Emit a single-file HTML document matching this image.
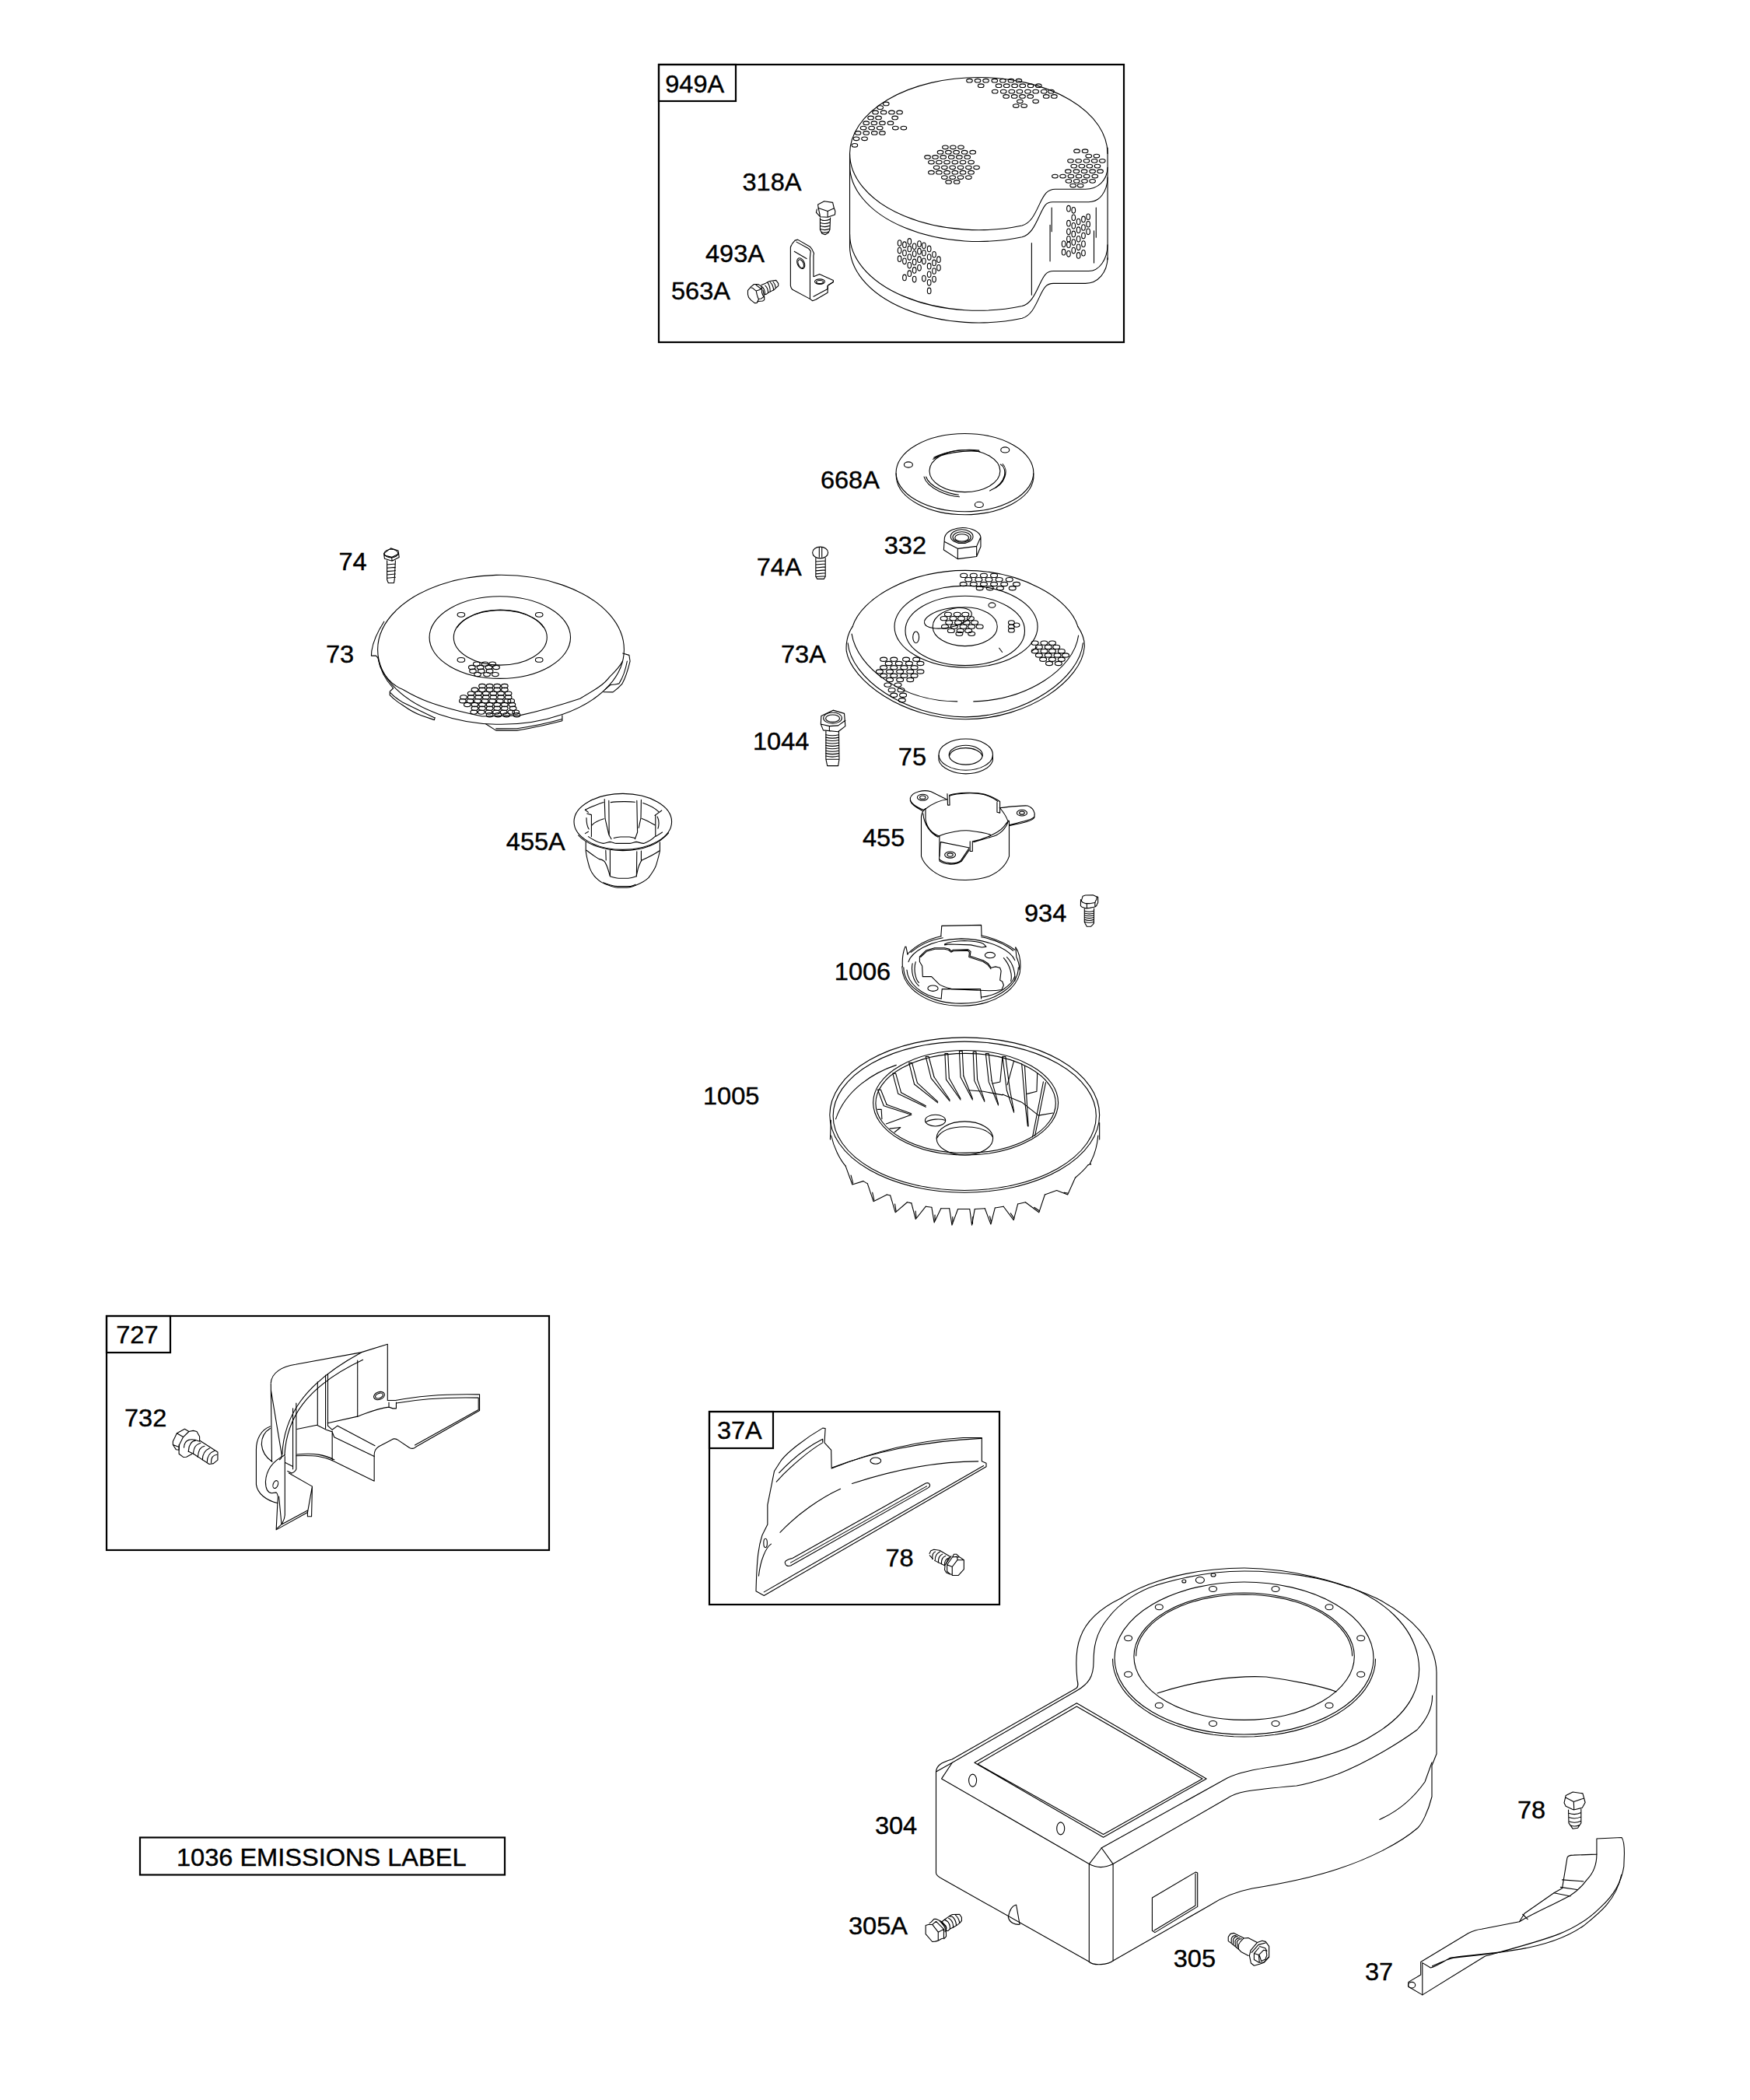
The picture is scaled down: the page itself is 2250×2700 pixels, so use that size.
<!DOCTYPE html>
<html><head><meta charset="utf-8"><style>
html,body{margin:0;padding:0;background:#fff;}
svg{display:block;}
text{font-family:"Liberation Sans",sans-serif;font-size:31px;fill:#000;stroke:#000;stroke-width:0.4px;}
.p{fill:none;stroke:#000;stroke-width:1.1;stroke-linejoin:round;stroke-linecap:round;}
.p *{vector-effect:non-scaling-stroke;}
</style></head><body>
<svg width="2250" height="2700" viewBox="0 0 2250 2700">
<g fill="none" stroke="#000" stroke-width="2.2">
<rect x="847" y="83" width="598" height="357"/>
<rect x="847" y="83" width="99" height="47"/>
<rect x="137" y="1692" width="569" height="301"/>
<rect x="137" y="1692" width="82" height="47"/>
<rect x="912" y="1815" width="373" height="248"/>
<rect x="912" y="1815" width="82" height="47"/>
<rect x="180" y="2362.5" width="469" height="48"/>
</g>
<g class="p">
<g transform="translate(1090,80) scale(0.211430)"><path d="M1580,556 A784,464 0 0 0 12,556 A784,464 0 0 0 1060,993 C1110,980 1135,930 1165,865 C1195,800 1215,772 1262,772 L1445,772 C1520,772 1578,720 1580,640"/><path d="M12,626 A784,464 0 0 0 1060,1063 C1110,1050 1135,1000 1165,935 C1195,870 1205,850 1245,850 L1465,850 C1530,850 1578,790 1580,700"/><path d="M12,1046 A784,464 0 0 0 1060,1483 C1110,1470 1135,1420 1165,1355 C1195,1290 1210,1270 1250,1270 L1465,1270 C1530,1270 1578,1200 1580,1110"/><path d="M12,1120 A784,464 0 0 0 1060,1557 C1110,1544 1135,1494 1165,1429 C1195,1364 1210,1345 1250,1345 L1445,1345 C1520,1345 1578,1280 1580,1190"/><path d="M12,556 L12,1125 M1580,520 L1580,1200"/><path d="M1118,1100 L1118,1415 M1240,885 L1240,1030 M1230,990 L1230,1210 M1510,885 L1510,1065 M1497,1025 L1497,1220"/><ellipse cx="593" cy="517" rx="18" ry="11"/><ellipse cx="640" cy="517" rx="18" ry="11"/><ellipse cx="688" cy="517" rx="18" ry="11"/><ellipse cx="563" cy="547" rx="18" ry="11"/><ellipse cx="612" cy="547" rx="18" ry="11"/><ellipse cx="660" cy="547" rx="18" ry="11"/><ellipse cx="710" cy="547" rx="18" ry="11"/><ellipse cx="760" cy="547" rx="18" ry="11"/><ellipse cx="485" cy="577" rx="18" ry="11"/><ellipse cx="532" cy="577" rx="18" ry="11"/><ellipse cx="580" cy="577" rx="18" ry="11"/><ellipse cx="630" cy="577" rx="18" ry="11"/><ellipse cx="678" cy="577" rx="18" ry="11"/><ellipse cx="727" cy="577" rx="18" ry="11"/><ellipse cx="508" cy="608" rx="18" ry="11"/><ellipse cx="555" cy="608" rx="18" ry="11"/><ellipse cx="603" cy="608" rx="18" ry="11"/><ellipse cx="652" cy="608" rx="18" ry="11"/><ellipse cx="700" cy="608" rx="18" ry="11"/><ellipse cx="750" cy="608" rx="18" ry="11"/><ellipse cx="540" cy="640" rx="18" ry="11"/><ellipse cx="588" cy="640" rx="18" ry="11"/><ellipse cx="637" cy="640" rx="18" ry="11"/><ellipse cx="686" cy="640" rx="18" ry="11"/><ellipse cx="735" cy="640" rx="18" ry="11"/><ellipse cx="783" cy="640" rx="18" ry="11"/><ellipse cx="508" cy="670" rx="18" ry="11"/><ellipse cx="555" cy="670" rx="18" ry="11"/><ellipse cx="603" cy="670" rx="18" ry="11"/><ellipse cx="652" cy="670" rx="18" ry="11"/><ellipse cx="700" cy="670" rx="18" ry="11"/><ellipse cx="750" cy="670" rx="18" ry="11"/><ellipse cx="588" cy="700" rx="18" ry="11"/><ellipse cx="637" cy="700" rx="18" ry="11"/><ellipse cx="686" cy="700" rx="18" ry="11"/><ellipse cx="735" cy="700" rx="18" ry="11"/><ellipse cx="613" cy="728" rx="18" ry="11"/><ellipse cx="663" cy="728" rx="18" ry="11"/><ellipse cx="1393" cy="540" rx="18" ry="11"/><ellipse cx="1443" cy="540" rx="18" ry="11"/><ellipse cx="1465" cy="570" rx="18" ry="11"/><ellipse cx="1513" cy="570" rx="18" ry="11"/><ellipse cx="1355" cy="600" rx="18" ry="11"/><ellipse cx="1403" cy="600" rx="18" ry="11"/><ellipse cx="1452" cy="600" rx="18" ry="11"/><ellipse cx="1500" cy="600" rx="18" ry="11"/><ellipse cx="1548" cy="600" rx="18" ry="11"/><ellipse cx="1375" cy="632" rx="18" ry="11"/><ellipse cx="1423" cy="632" rx="18" ry="11"/><ellipse cx="1470" cy="632" rx="18" ry="11"/><ellipse cx="1518" cy="632" rx="18" ry="11"/><ellipse cx="1340" cy="663" rx="18" ry="11"/><ellipse cx="1390" cy="663" rx="18" ry="11"/><ellipse cx="1438" cy="663" rx="18" ry="11"/><ellipse cx="1488" cy="663" rx="18" ry="11"/><ellipse cx="1535" cy="663" rx="18" ry="11"/><ellipse cx="1260" cy="693" rx="18" ry="11"/><ellipse cx="1308" cy="693" rx="18" ry="11"/><ellipse cx="1357" cy="693" rx="18" ry="11"/><ellipse cx="1405" cy="693" rx="18" ry="11"/><ellipse cx="1453" cy="693" rx="18" ry="11"/><ellipse cx="1503" cy="693" rx="18" ry="11"/><ellipse cx="1343" cy="723" rx="18" ry="11"/><ellipse cx="1392" cy="723" rx="18" ry="11"/><ellipse cx="1440" cy="723" rx="18" ry="11"/><ellipse cx="1488" cy="723" rx="18" ry="11"/><ellipse cx="1370" cy="750" rx="18" ry="11"/><ellipse cx="1415" cy="750" rx="18" ry="11"/><ellipse cx="233" cy="253" rx="18" ry="11"/><ellipse cx="197" cy="275" rx="18" ry="11"/><ellipse cx="168" cy="305" rx="18" ry="11"/><ellipse cx="218" cy="305" rx="18" ry="11"/><ellipse cx="267" cy="305" rx="18" ry="11"/><ellipse cx="315" cy="305" rx="18" ry="11"/><ellipse cx="140" cy="338" rx="18" ry="11"/><ellipse cx="187" cy="338" rx="18" ry="11"/><ellipse cx="287" cy="338" rx="18" ry="11"/><ellipse cx="112" cy="370" rx="18" ry="11"/><ellipse cx="160" cy="370" rx="18" ry="11"/><ellipse cx="210" cy="370" rx="18" ry="11"/><ellipse cx="260" cy="370" rx="18" ry="11"/><ellipse cx="95" cy="400" rx="18" ry="11"/><ellipse cx="145" cy="400" rx="18" ry="11"/><ellipse cx="195" cy="400" rx="18" ry="11"/><ellipse cx="290" cy="400" rx="18" ry="11"/><ellipse cx="340" cy="400" rx="18" ry="11"/><ellipse cx="62" cy="430" rx="18" ry="11"/><ellipse cx="112" cy="430" rx="18" ry="11"/><ellipse cx="162" cy="430" rx="18" ry="11"/><ellipse cx="210" cy="430" rx="18" ry="11"/><ellipse cx="52" cy="465" rx="18" ry="11"/><ellipse cx="102" cy="465" rx="18" ry="11"/><ellipse cx="42" cy="505" rx="18" ry="11"/><ellipse cx="740" cy="112" rx="18" ry="11"/><ellipse cx="790" cy="112" rx="18" ry="11"/><ellipse cx="840" cy="112" rx="18" ry="11"/><ellipse cx="893" cy="112" rx="18" ry="11"/><ellipse cx="943" cy="112" rx="18" ry="11"/><ellipse cx="993" cy="112" rx="18" ry="11"/><ellipse cx="1040" cy="112" rx="18" ry="11"/><ellipse cx="810" cy="143" rx="18" ry="11"/><ellipse cx="918" cy="143" rx="18" ry="11"/><ellipse cx="966" cy="143" rx="18" ry="11"/><ellipse cx="1015" cy="143" rx="18" ry="11"/><ellipse cx="1063" cy="143" rx="18" ry="11"/><ellipse cx="1112" cy="143" rx="18" ry="11"/><ellipse cx="1160" cy="143" rx="18" ry="11"/><ellipse cx="895" cy="178" rx="18" ry="11"/><ellipse cx="947" cy="178" rx="18" ry="11"/><ellipse cx="997" cy="178" rx="18" ry="11"/><ellipse cx="1045" cy="178" rx="18" ry="11"/><ellipse cx="1095" cy="178" rx="18" ry="11"/><ellipse cx="1143" cy="178" rx="18" ry="11"/><ellipse cx="1193" cy="178" rx="18" ry="11"/><ellipse cx="1237" cy="178" rx="18" ry="11"/><ellipse cx="963" cy="208" rx="18" ry="11"/><ellipse cx="1013" cy="208" rx="18" ry="11"/><ellipse cx="1062" cy="208" rx="18" ry="11"/><ellipse cx="1110" cy="208" rx="18" ry="11"/><ellipse cx="1207" cy="208" rx="18" ry="11"/><ellipse cx="1255" cy="208" rx="18" ry="11"/><ellipse cx="1047" cy="238" rx="18" ry="11"/><ellipse cx="1143" cy="238" rx="18" ry="11"/><ellipse cx="1023" cy="265" rx="18" ry="11"/><ellipse cx="1072" cy="265" rx="18" ry="11"/><ellipse cx="315" cy="1100" rx="11" ry="18"/><ellipse cx="315" cy="1145" rx="11" ry="18"/><ellipse cx="315" cy="1195" rx="11" ry="18"/><ellipse cx="345" cy="1110" rx="11" ry="18"/><ellipse cx="345" cy="1160" rx="11" ry="18"/><ellipse cx="345" cy="1210" rx="11" ry="18"/><ellipse cx="345" cy="1310" rx="11" ry="18"/><ellipse cx="375" cy="1090" rx="11" ry="18"/><ellipse cx="375" cy="1135" rx="11" ry="18"/><ellipse cx="375" cy="1185" rx="11" ry="18"/><ellipse cx="375" cy="1235" rx="11" ry="18"/><ellipse cx="375" cy="1285" rx="11" ry="18"/><ellipse cx="405" cy="1120" rx="11" ry="18"/><ellipse cx="405" cy="1165" rx="11" ry="18"/><ellipse cx="405" cy="1215" rx="11" ry="18"/><ellipse cx="405" cy="1265" rx="11" ry="18"/><ellipse cx="405" cy="1320" rx="11" ry="18"/><ellipse cx="435" cy="1105" rx="11" ry="18"/><ellipse cx="435" cy="1150" rx="11" ry="18"/><ellipse cx="435" cy="1200" rx="11" ry="18"/><ellipse cx="435" cy="1250" rx="11" ry="18"/><ellipse cx="463" cy="1115" rx="11" ry="18"/><ellipse cx="463" cy="1160" rx="11" ry="18"/><ellipse cx="463" cy="1210" rx="11" ry="18"/><ellipse cx="463" cy="1315" rx="11" ry="18"/><ellipse cx="495" cy="1135" rx="11" ry="18"/><ellipse cx="495" cy="1185" rx="11" ry="18"/><ellipse cx="495" cy="1240" rx="11" ry="18"/><ellipse cx="495" cy="1290" rx="11" ry="18"/><ellipse cx="495" cy="1340" rx="11" ry="18"/><ellipse cx="495" cy="1390" rx="11" ry="18"/><ellipse cx="525" cy="1170" rx="11" ry="18"/><ellipse cx="525" cy="1220" rx="11" ry="18"/><ellipse cx="525" cy="1270" rx="11" ry="18"/><ellipse cx="525" cy="1320" rx="11" ry="18"/><ellipse cx="553" cy="1200" rx="11" ry="18"/><ellipse cx="553" cy="1250" rx="11" ry="18"/><ellipse cx="1343" cy="890" rx="11" ry="18"/><ellipse cx="1343" cy="980" rx="11" ry="18"/><ellipse cx="1343" cy="1030" rx="11" ry="18"/><ellipse cx="1343" cy="1075" rx="11" ry="18"/><ellipse cx="1343" cy="1110" rx="11" ry="18"/><ellipse cx="1343" cy="1165" rx="11" ry="18"/><ellipse cx="1373" cy="900" rx="11" ry="18"/><ellipse cx="1373" cy="945" rx="11" ry="18"/><ellipse cx="1373" cy="995" rx="11" ry="18"/><ellipse cx="1373" cy="1045" rx="11" ry="18"/><ellipse cx="1373" cy="1095" rx="11" ry="18"/><ellipse cx="1373" cy="1145" rx="11" ry="18"/><ellipse cx="1313" cy="1105" rx="11" ry="18"/><ellipse cx="1313" cy="1155" rx="11" ry="18"/><ellipse cx="1403" cy="970" rx="11" ry="18"/><ellipse cx="1403" cy="1020" rx="11" ry="18"/><ellipse cx="1403" cy="1075" rx="11" ry="18"/><ellipse cx="1403" cy="1125" rx="11" ry="18"/><ellipse cx="1403" cy="1175" rx="11" ry="18"/><ellipse cx="1433" cy="955" rx="11" ry="18"/><ellipse cx="1433" cy="1005" rx="11" ry="18"/><ellipse cx="1433" cy="1055" rx="11" ry="18"/><ellipse cx="1433" cy="1105" rx="11" ry="18"/><ellipse cx="1433" cy="1160" rx="11" ry="18"/><ellipse cx="1462" cy="940" rx="11" ry="18"/><ellipse cx="1462" cy="985" rx="11" ry="18"/><ellipse cx="1462" cy="1030" rx="11" ry="18"/></g>
<g transform="translate(950,250) scale(0.080952)"><path d="M1255,160 L1355,108 L1490,128 L1512,220 L1410,265 L1262,215 Z"/><path d="M1240,235 L1228,285 L1290,355 L1410,362 L1525,320 L1530,265 L1512,220 M1262,215 L1285,320 L1290,355 M1410,265 L1410,350"/><path d="M1290,370 L1290,560 L1320,620 L1370,640 L1420,610 L1445,560 L1452,370 M1300,400 Q1370,430 1445,395 M1295,450 Q1370,480 1445,445 M1295,500 Q1370,530 1445,495 M1295,550 Q1370,580 1445,545 M1310,595 Q1370,620 1430,590"/><path d="M820,840 L820,1450 C825,1480 840,1500 850,1510 L1130,1660 L1170,1690 L1220,1670 L1410,1560 L1410,1450 L1500,1390 L1500,1365 L1280,1265 L1185,1305 L1185,970 L1192,935 C1170,880 1150,850 1130,830 L935,718 L890,730 C860,760 835,790 820,840 Z"/><path d="M1130,1650 L1130,1000 L1140,900 C1120,870 1110,860 1100,855 L915,755 M880,905 L1075,1020 M1185,1620 L1410,1500 M1410,1450 L1410,1500 M1500,1390 L1420,1440"/><ellipse cx="985" cy="1095" rx="55" ry="90" transform="rotate(-25 985 1095)"/><ellipse cx="985" cy="1100" rx="40" ry="70" transform="rotate(-25 985 1100)"/><ellipse cx="1285" cy="1385" rx="80" ry="40"/><ellipse cx="1285" cy="1390" rx="55" ry="25"/></g>
<g transform="translate(958,355) scale(0.026860)"><path d="M130,680 L290,500 L430,390 L620,390 L760,470 L810,600 L800,780 L850,920 L920,1020 L920,1140 L840,1190 L620,1210 L560,1280 L460,1290 L280,1150 L170,1020 L130,880 Z"/><path d="M290,560 L360,570 L530,710 L700,650 L790,580 M530,710 L570,900 L620,1050 L650,1110 L580,1250 M650,1090 L770,1080 L860,1010 L880,1000 M520,420 L780,630"/><path d="M780,430 L980,340 L1170,240 L1480,200 L1590,350 L1590,470 L1480,560 L1380,660 L1210,740 L1100,800 L1010,870 L930,880"/><path d="M800,500 C900,570 950,650 950,870 M960,450 C1050,540 1100,620 1100,770 M1070,300 C1150,400 1200,500 1200,740 M1200,290 C1300,380 1350,480 1360,660 M1340,270 C1420,360 1460,430 1460,560 M860,680 C870,750 880,820 920,1000"/></g>
<g transform="translate(1040,540) scale(0.211430)"><ellipse cx="948" cy="320" rx="418" ry="237"/><path d="M530,325 L532,355 A418,237 0 0 0 1366,355 L1366,325"/><ellipse cx="948" cy="310" rx="215" ry="128"/><path d="M755,238 C800,205 950,180 1040,192 M760,228 C820,195 940,172 1035,185 M1165,270 C1205,290 1210,380 1100,430 M1178,268 C1215,300 1200,390 1110,425 M700,345 C720,420 850,462 915,467 M712,345 C735,410 850,450 910,455"/><ellipse cx="605" cy="272" rx="26" ry="17"/><ellipse cx="1193" cy="182" rx="26" ry="17"/><ellipse cx="1035" cy="515" rx="26" ry="17"/><path d="M825,715 C835,670 900,655 935,655 C990,655 1040,680 1045,712 L1045,770 L1020,830 L905,845 L820,790 L825,715 M825,740 L905,782 L1020,768 L1045,712 M905,782 L905,845 M1020,768 L1020,830"/><ellipse cx="930" cy="708" rx="68" ry="42"/><ellipse cx="930" cy="712" rx="55" ry="32"/><ellipse cx="930" cy="716" rx="42" ry="22"/></g>
<g transform="translate(960,690) scale(0.262860)"><ellipse cx="360" cy="78" rx="38" ry="28"/><path d="M355,52 L355,100 M368,52 L368,100"/><path d="M338,105 L338,195 L345,207 L378,207 L385,195 L385,105 M338,122 L385,118 M338,137 L385,133 M338,152 L385,148 M338,167 L385,163 M338,182 L385,178 M338,196 L385,193"/><path d="M518,440 C560,300 800,165 1070,165 C1340,165 1580,300 1620,440"/><path d="M518,440 C490,480 485,530 488,560 C510,700 760,893 1070,893 C1380,893 1640,700 1652,540 C1655,500 1640,470 1620,440"/><path d="M495,520 C510,690 770,880 1070,882 C1370,880 1630,690 1645,520"/><path d="M514,476 C540,640 760,806 1030,806 M1110,806 C1370,800 1600,650 1623,483"/><ellipse cx="1073" cy="440" rx="350" ry="200"/><ellipse cx="1068" cy="460" rx="292" ry="170"/><ellipse cx="1068" cy="440" rx="158" ry="95"/><ellipse cx="985" cy="398" rx="118" ry="46" transform="rotate(-12 985 398)"/><ellipse cx="1200" cy="335" rx="17" ry="12"/><ellipse cx="828" cy="492" rx="15" ry="28"/><path d="M1235,545 L1250,565"/><ellipse cx="1062" cy="190" rx="17" ry="10"/><ellipse cx="1110" cy="190" rx="17" ry="10"/><ellipse cx="1160" cy="190" rx="17" ry="10"/><ellipse cx="1210" cy="190" rx="17" ry="10"/><ellipse cx="1085" cy="210" rx="17" ry="10"/><ellipse cx="1135" cy="210" rx="17" ry="10"/><ellipse cx="1185" cy="210" rx="17" ry="10"/><ellipse cx="1235" cy="210" rx="17" ry="10"/><ellipse cx="1285" cy="210" rx="17" ry="10"/><ellipse cx="1060" cy="232" rx="17" ry="10"/><ellipse cx="1110" cy="232" rx="17" ry="10"/><ellipse cx="1160" cy="232" rx="17" ry="10"/><ellipse cx="1210" cy="232" rx="17" ry="10"/><ellipse cx="1260" cy="232" rx="17" ry="10"/><ellipse cx="1320" cy="232" rx="17" ry="10"/><ellipse cx="1140" cy="252" rx="17" ry="10"/><ellipse cx="1190" cy="252" rx="17" ry="10"/><ellipse cx="1240" cy="252" rx="17" ry="10"/><ellipse cx="1300" cy="252" rx="17" ry="10"/><ellipse cx="670" cy="600" rx="17" ry="10"/><ellipse cx="720" cy="600" rx="17" ry="10"/><ellipse cx="780" cy="600" rx="17" ry="10"/><ellipse cx="830" cy="600" rx="17" ry="10"/><ellipse cx="695" cy="620" rx="17" ry="10"/><ellipse cx="745" cy="620" rx="17" ry="10"/><ellipse cx="795" cy="620" rx="17" ry="10"/><ellipse cx="850" cy="620" rx="17" ry="10"/><ellipse cx="670" cy="640" rx="17" ry="10"/><ellipse cx="720" cy="640" rx="17" ry="10"/><ellipse cx="770" cy="640" rx="17" ry="10"/><ellipse cx="820" cy="640" rx="17" ry="10"/><ellipse cx="650" cy="660" rx="17" ry="10"/><ellipse cx="700" cy="660" rx="17" ry="10"/><ellipse cx="750" cy="660" rx="17" ry="10"/><ellipse cx="800" cy="660" rx="17" ry="10"/><ellipse cx="850" cy="660" rx="17" ry="10"/><ellipse cx="670" cy="680" rx="17" ry="10"/><ellipse cx="720" cy="680" rx="17" ry="10"/><ellipse cx="770" cy="680" rx="17" ry="10"/><ellipse cx="820" cy="680" rx="17" ry="10"/><ellipse cx="700" cy="700" rx="17" ry="10"/><ellipse cx="750" cy="700" rx="17" ry="10"/><ellipse cx="800" cy="700" rx="17" ry="10"/><ellipse cx="690" cy="725" rx="17" ry="10"/><ellipse cx="740" cy="725" rx="17" ry="10"/><ellipse cx="710" cy="750" rx="17" ry="10"/><ellipse cx="755" cy="750" rx="17" ry="10"/><ellipse cx="720" cy="775" rx="17" ry="10"/><ellipse cx="765" cy="775" rx="17" ry="10"/><ellipse cx="760" cy="800" rx="17" ry="10"/><ellipse cx="1410" cy="520" rx="17" ry="10"/><ellipse cx="1455" cy="520" rx="17" ry="10"/><ellipse cx="1495" cy="520" rx="17" ry="10"/><ellipse cx="1430" cy="540" rx="17" ry="10"/><ellipse cx="1475" cy="540" rx="17" ry="10"/><ellipse cx="1515" cy="540" rx="17" ry="10"/><ellipse cx="1410" cy="560" rx="17" ry="10"/><ellipse cx="1455" cy="560" rx="17" ry="10"/><ellipse cx="1495" cy="560" rx="17" ry="10"/><ellipse cx="1540" cy="560" rx="17" ry="10"/><ellipse cx="1430" cy="580" rx="17" ry="10"/><ellipse cx="1475" cy="580" rx="17" ry="10"/><ellipse cx="1520" cy="580" rx="17" ry="10"/><ellipse cx="1560" cy="580" rx="17" ry="10"/><ellipse cx="1450" cy="600" rx="17" ry="10"/><ellipse cx="1495" cy="600" rx="17" ry="10"/><ellipse cx="1540" cy="600" rx="17" ry="10"/><ellipse cx="1480" cy="620" rx="17" ry="10"/><ellipse cx="1525" cy="620" rx="17" ry="10"/><ellipse cx="985" cy="380" rx="17" ry="10"/><ellipse cx="1030" cy="380" rx="17" ry="10"/><ellipse cx="1070" cy="380" rx="17" ry="10"/><ellipse cx="965" cy="400" rx="17" ry="10"/><ellipse cx="1010" cy="400" rx="17" ry="10"/><ellipse cx="1050" cy="400" rx="17" ry="10"/><ellipse cx="1095" cy="400" rx="17" ry="10"/><ellipse cx="990" cy="420" rx="17" ry="10"/><ellipse cx="1035" cy="420" rx="17" ry="10"/><ellipse cx="1075" cy="420" rx="17" ry="10"/><ellipse cx="1115" cy="420" rx="17" ry="10"/><ellipse cx="970" cy="440" rx="17" ry="10"/><ellipse cx="1015" cy="440" rx="17" ry="10"/><ellipse cx="1060" cy="440" rx="17" ry="10"/><ellipse cx="1100" cy="440" rx="17" ry="10"/><ellipse cx="1140" cy="440" rx="17" ry="10"/><ellipse cx="1000" cy="460" rx="17" ry="10"/><ellipse cx="1045" cy="460" rx="17" ry="10"/><ellipse cx="1085" cy="460" rx="17" ry="10"/><ellipse cx="1040" cy="475" rx="17" ry="10"/><ellipse cx="1100" cy="475" rx="17" ry="10"/><ellipse cx="1295" cy="420" rx="15" ry="10"/><ellipse cx="1320" cy="432" rx="15" ry="10"/><ellipse cx="1295" cy="440" rx="15" ry="10"/><ellipse cx="1295" cy="458" rx="15" ry="10"/><path d="M1395,560 L1420,540"/></g>
<g transform="translate(410,690) scale(0.239998)"><path d="M348,90 L385,62 L425,75 L430,110 L392,130 L352,118 Z M352,100 L390,110 L428,92 M390,110 L392,130"/><ellipse cx="387" cy="90" rx="37" ry="22"/><path d="M365,128 L365,230 L372,248 L402,248 L405,230 L410,128 M365,150 L410,146 M365,168 L410,164 M365,186 L410,182 M365,204 L410,200 M365,222 L410,218"/><path d="M1635,605 A660,400 0 1 0 1635,606"/><ellipse cx="970" cy="540" rx="378" ry="220"/><ellipse cx="972" cy="540" rx="250" ry="148"/><path d="M741.8,484.8 L751.5,471.9 L763.5,459.6 L777.6,448.0 L793.8,437.3 L811.8,427.6 L831.5,419.0 L852.6,411.5 L875.0,405.3 L898.3,400.4 L922.5,396.9 L947.1,394.7 L972.0,394.0 L996.9,394.7 L1021.5,396.9 L1045.7,400.4 L1069.0,405.3 L1091.4,411.5 L1112.5,419.0 L1132.2,427.6 L1150.2,437.3 L1166.4,448.0 L1180.5,459.6 L1192.5,471.9 L1202.2,484.8"/><ellipse cx="762" cy="418" rx="20" ry="12"/><ellipse cx="1180" cy="418" rx="20" ry="12"/><ellipse cx="762" cy="660" rx="20" ry="12"/><ellipse cx="1180" cy="660" rx="20" ry="12"/><path d="M349,455 C320,500 290,560 282.5,613 L281,638 L305.7,638 L316.5,649 C325,700 350,760 398.6,811.5 L380,830 L380,848.6 C400,870 420,885 451,904.4 C480,925 510,945 547,957 L618.4,981.8 L621.5,969.4"/><path d="M383,836 C400,855 420,870 451,889 L618.4,969.4"/><path d="M893.9,1003.4 L948.6,1038 L1061,1038 C1150,1025 1250,1000 1303.6,986.7 L1303.6,957.1 M948.6,1028.6 L1061,1028 C1150,1015 1250,992 1303.6,977"/><path d="M1525,832 L1575.5,833 C1600,815 1615,800 1624,789.5 C1640,760 1652,730 1667,666.7 L1662,635 L1628,625 M1532,819 L1561,795 C1580,792 1600,790 1608.6,786 C1625,760 1640,730 1651.5,666.7"/><path d="M316.5,647 C330,740 400,800 448,817.6 C520,860 600,905 875,962.6 L1075,957.8 C1200,930 1300,900 1398.8,867.3 C1480,820 1530,790 1556,752.4 C1590,720 1615,690 1627.3,666.7"/><ellipse cx="845" cy="682" rx="18" ry="11"/><ellipse cx="890" cy="682" rx="18" ry="11"/><ellipse cx="930" cy="682" rx="18" ry="11"/><ellipse cx="820" cy="700" rx="18" ry="11"/><ellipse cx="865" cy="700" rx="18" ry="11"/><ellipse cx="910" cy="700" rx="18" ry="11"/><ellipse cx="950" cy="700" rx="18" ry="11"/><ellipse cx="825" cy="720" rx="18" ry="11"/><ellipse cx="870" cy="720" rx="18" ry="11"/><ellipse cx="915" cy="720" rx="18" ry="11"/><ellipse cx="850" cy="738" rx="18" ry="11"/><ellipse cx="900" cy="738" rx="18" ry="11"/><ellipse cx="945" cy="738" rx="18" ry="11"/><ellipse cx="875" cy="800" rx="18" ry="11"/><ellipse cx="915" cy="800" rx="18" ry="11"/><ellipse cx="955" cy="800" rx="18" ry="11"/><ellipse cx="995" cy="800" rx="18" ry="11"/><ellipse cx="835" cy="820" rx="18" ry="11"/><ellipse cx="875" cy="820" rx="18" ry="11"/><ellipse cx="915" cy="820" rx="18" ry="11"/><ellipse cx="955" cy="820" rx="18" ry="11"/><ellipse cx="995" cy="820" rx="18" ry="11"/><ellipse cx="815" cy="840" rx="18" ry="11"/><ellipse cx="855" cy="840" rx="18" ry="11"/><ellipse cx="895" cy="840" rx="18" ry="11"/><ellipse cx="935" cy="840" rx="18" ry="11"/><ellipse cx="975" cy="840" rx="18" ry="11"/><ellipse cx="1015" cy="840" rx="18" ry="11"/><ellipse cx="775" cy="860" rx="18" ry="11"/><ellipse cx="815" cy="860" rx="18" ry="11"/><ellipse cx="855" cy="860" rx="18" ry="11"/><ellipse cx="895" cy="860" rx="18" ry="11"/><ellipse cx="935" cy="860" rx="18" ry="11"/><ellipse cx="975" cy="860" rx="18" ry="11"/><ellipse cx="1015" cy="860" rx="18" ry="11"/><ellipse cx="770" cy="880" rx="18" ry="11"/><ellipse cx="810" cy="880" rx="18" ry="11"/><ellipse cx="850" cy="880" rx="18" ry="11"/><ellipse cx="890" cy="880" rx="18" ry="11"/><ellipse cx="930" cy="880" rx="18" ry="11"/><ellipse cx="970" cy="880" rx="18" ry="11"/><ellipse cx="1010" cy="880" rx="18" ry="11"/><ellipse cx="1030" cy="880" rx="18" ry="11"/><ellipse cx="795" cy="900" rx="18" ry="11"/><ellipse cx="835" cy="900" rx="18" ry="11"/><ellipse cx="875" cy="900" rx="18" ry="11"/><ellipse cx="915" cy="900" rx="18" ry="11"/><ellipse cx="955" cy="900" rx="18" ry="11"/><ellipse cx="995" cy="900" rx="18" ry="11"/><ellipse cx="1035" cy="900" rx="18" ry="11"/><ellipse cx="835" cy="920" rx="18" ry="11"/><ellipse cx="875" cy="920" rx="18" ry="11"/><ellipse cx="915" cy="920" rx="18" ry="11"/><ellipse cx="955" cy="920" rx="18" ry="11"/><ellipse cx="995" cy="920" rx="18" ry="11"/><ellipse cx="1040" cy="920" rx="18" ry="11"/><ellipse cx="830" cy="940" rx="18" ry="11"/><ellipse cx="870" cy="940" rx="18" ry="11"/><ellipse cx="910" cy="940" rx="18" ry="11"/><ellipse cx="950" cy="940" rx="18" ry="11"/><ellipse cx="990" cy="940" rx="18" ry="11"/><ellipse cx="1030" cy="940" rx="18" ry="11"/><ellipse cx="1055" cy="940" rx="18" ry="11"/><ellipse cx="915" cy="955" rx="18" ry="11"/><ellipse cx="960" cy="955" rx="18" ry="11"/><ellipse cx="1005" cy="955" rx="18" ry="11"/><ellipse cx="1060" cy="955" rx="18" ry="11"/></g>
<g transform="translate(640,900) scale(0.262860)"><path d="M1582,78 L1640,50 L1695,66 L1700,128 L1665,155 L1592,148 L1580,118 Z M1580,118 L1622,128 L1665,125 L1700,100 M1622,128 L1622,152"/><ellipse cx="1638" cy="88" rx="45" ry="27"/><ellipse cx="1638" cy="90" rx="34" ry="18"/><path d="M1605,152 L1605,290 L1612,322 L1665,322 L1670,290 L1668,152 M1605,290 L1670,290"/><path d="M1605,170 Q1636,178 1668,170"/><path d="M1605,183 Q1636,191 1668,183"/><path d="M1605,196 Q1636,204 1668,196"/><path d="M1605,209 Q1636,217 1668,209"/><path d="M1605,222 Q1636,230 1668,222"/><path d="M1605,235 Q1636,243 1668,235"/><path d="M1605,248 Q1636,256 1668,248"/><path d="M1605,261 Q1636,269 1668,261"/><path d="M1605,274 Q1636,282 1668,274"/></g>
<g transform="translate(730,1010) scale(0.080000)"><ellipse cx="885" cy="580" rx="785" ry="450"/><path d="M170,800 C300,950 600,1040 885,1045 C1170,1040 1450,960 1620,760"/><path d="M280,390 C340,360 420,320 575,270 M690,270 C800,255 1000,255 1080,265 M1210,280 C1300,310 1400,360 1460,420"/><path d="M330,820 C420,880 500,920 570,930 C620,925 650,905 680,905 C720,910 750,930 780,930 L1000,930 C1040,930 1070,905 1100,905 C1140,910 1180,930 1220,930 C1300,900 1350,870 1400,820"/><path d="M590,220 L600,530 L660,790 L700,860 M660,240 L665,800 M1110,240 L1120,750 L1080,860 M1180,230 L1175,520 L1140,680 M740,845 C780,830 800,825 850,825 L990,825 C1030,830 1060,840 1080,845 M390,635 C420,600 460,570 580,535 M1190,530 C1250,550 1290,570 1400,635"/><path d="M310,450 L380,470 L380,820 M300,520 C300,600 310,660 340,700 M1400,480 L1510,400 M1410,470 L1410,820 L1520,750 M1440,500 C1470,560 1470,620 1450,690 M280,390 L330,430 M280,770 L330,740"/><path d="M290,900 L290,1050 C300,1150 330,1250 350,1320 C380,1400 420,1450 450,1480 C500,1530 560,1570 600,1580 C680,1610 750,1640 800,1640 L950,1640 C1000,1640 1050,1620 1100,1600 C1200,1560 1260,1520 1300,1480 C1360,1400 1400,1340 1420,1280 C1450,1180 1470,1100 1480,1050 L1480,910"/><path d="M300,1040 C380,1100 450,1150 500,1180 C550,1190 580,1210 590,1220 C630,1270 650,1350 680,1460 C740,1480 780,1490 820,1490 L970,1490 C1020,1490 1060,1475 1100,1460 C1120,1380 1130,1320 1140,1300 C1160,1250 1180,1210 1190,1200 C1300,1150 1400,1100 1470,1050"/><path d="M610,1040 L615,1200 M680,1040 L680,1450 M1110,1060 L1105,1460 M1180,1050 L1180,1200 M570,1560 C650,1590 720,1620 800,1620 L1010,1620 C1040,1610 1070,1600 1090,1590"/></g>
<g transform="translate(1100,940) scale(0.182857)"><ellipse cx="775" cy="165" rx="190" ry="110"/><path d="M585,170 L585,205 C600,265 700,300 775,300 C860,300 950,265 965,205 L965,170"/><ellipse cx="775" cy="168" rx="118" ry="68"/><path d="M660,175 C670,130 730,118 775,118 C830,118 880,140 892,175"/><path d="M462,600 L462,880 C480,940 550,1000 620,1025 C700,1055 850,1055 940,1020 C1010,990 1060,940 1080,880 L1080,630"/><path d="M490,548 C540,510 600,485 645,480 M660,455 C720,435 830,430 900,445 C950,460 985,480 1000,495 M1015,540 C1040,570 1060,600 1070,630"/><path d="M462,600 C470,560 480,550 492,545 L492,620 C500,680 540,720 590,740 M475,580 C480,660 530,720 580,745"/><path d="M645,440 L648,520 L662,520 L660,450 C720,430 850,428 910,445 C960,460 995,480 1015,495 L1015,575 L995,570 L995,500"/><path d="M580,740 C650,710 750,695 800,700 C880,710 930,720 950,730 M590,740 L590,880 M805,775 L805,845 L822,845 L822,775 C900,760 1000,720 1040,675 L1075,630 C1060,680 1020,730 950,745 L830,780"/><path d="M640,480 L530,425 C480,410 400,425 385,470 C380,500 420,530 480,555 L495,545 M385,470 L385,490 C390,510 430,540 470,560"/><ellipse cx="472" cy="466" rx="38" ry="22"/><ellipse cx="472" cy="466" rx="20" ry="12"/><path d="M1012,540 C1100,530 1180,522 1210,525 C1250,540 1265,575 1258,600 C1240,625 1180,635 1080,660 M1258,585 L1258,605 C1250,630 1180,645 1080,665"/><ellipse cx="1170" cy="575" rx="36" ry="21"/><ellipse cx="1170" cy="575" rx="18" ry="11"/><path d="M598,780 L588,900 C620,930 700,940 740,910 L800,820 L600,780 M588,900 L592,915 C630,940 700,945 745,915 L800,835"/><ellipse cx="665" cy="870" rx="38" ry="22"/><ellipse cx="665" cy="870" rx="20" ry="12"/></g>
<g transform="translate(1060,1140) scale(0.205715)"><path d="M485,500 C485,640 650,745 855,745 C1060,745 1225,640 1225,500 C1225,440 1210,400 1195,380"/><path d="M495,505 C495,630 660,730 855,730 C1050,730 1210,630 1212,505"/><path d="M520,420 C580,360 660,325 730,310 M980,305 C1050,320 1130,350 1190,395 M540,410 C600,360 680,330 740,320 M980,315 C1060,330 1130,360 1180,400"/><path d="M505,375 C490,410 485,450 488,500 M520,425 L510,375 M1195,380 L1200,440 C1215,470 1218,490 1220,520"/><path d="M525,470 C540,420 640,330 855,325 C1060,330 1170,410 1190,460 M515,520 C520,600 600,680 730,700"/><path d="M728,310 L733,245 L980,240 L982,305 M730,700 L735,640 L975,640 L980,700 L980,690 C1080,680 1170,620 1190,560"/><path d="M595,437 L634,399 L688,383 L751,383 L778,389 L793,402 L805,395 L898,393 L914,406 L910,434 L992,461 L1023,480 L1042,507 L1069,500 L1097,507 L1104,527 L1097,585 L1112,593 L1120,616 L1108,644 C1050,655 1000,650 953,647 L797,640 C760,630 740,625 719,612 L669,562 L614,562 L611,496 L595,469 Z M601,440 L638,405 L690,390 L750,390 L776,396 L791,409 L806,402 L896,400 L906,410 L903,440 L990,468 L1020,487 L1040,514"/><ellipse cx="1035" cy="428" rx="32" ry="18"/><ellipse cx="678" cy="635" rx="32" ry="18"/><path d="M751,360 C770,348 800,340 875,338 C930,340 970,345 992,356 L1011,375 L984,379 L914,364 L782,360 L751,364 Z"/><path d="M550,480 C540,530 555,590 590,620 M570,470 C555,520 570,580 590,600 M1120,445 C1160,490 1175,550 1165,590 M1140,440 C1180,480 1195,540 1190,590"/></g>
<g transform="translate(1385,1145) scale(0.023810)"><path d="M220,560 L300,300 L440,250 L850,240 L1060,340 L1040,500 L990,560 L960,650 L840,670 L670,700 L460,700 L300,640 Z"/><path d="M190,480 L185,820 L240,880 L380,930 L470,960 L680,940 L850,900 L960,880 L1040,820 L1060,760 L1120,650 L1120,350 L1060,340 M520,715 L520,960 M960,650 L960,880"/><path d="M390,990 L390,1700 L440,1800 L520,1940 L740,1940 L830,1850 L900,1760 L905,970"/><path d="M400,1100 Q650,1190 895,1100"/><path d="M400,1220 Q650,1310 895,1220"/><path d="M400,1330 Q650,1420 895,1330"/><path d="M400,1450 Q650,1540 895,1450"/><path d="M400,1570 Q650,1660 895,1570"/><path d="M400,1690 Q650,1780 895,1690"/></g>
<g transform="translate(890,1320) scale(0.308575)"><ellipse cx="1135" cy="368" rx="562" ry="323"/><ellipse cx="1135" cy="372" rx="548" ry="310"/><path d="M598,385 C640,260 760,190 850,160"/><path d="M578,390 L575,470 M1697,400 L1697,470"/></g>
<g transform="translate(1110,1340) scale(0.154285)"><ellipse cx="853" cy="504" rx="771" ry="436"/><ellipse cx="853" cy="508" rx="750" ry="415"/><ellipse cx="845" cy="800" rx="235" ry="140"/><path d="M612,800 C650,730 740,705 845,705 C950,705 1040,730 1080,790"/><ellipse cx="600" cy="652" rx="85" ry="48"/><path d="M520,665 C560,640 640,635 680,650"/><path d="M120,395 L145,395 L195,520 M400,605 L170,530 L120,395"/><path d="M195,520 L400,595"/><path d="M245,260 L270,260 L315,420 M520,540 L290,430 L245,260"/><path d="M315,420 L520,530"/><path d="M380,170 L405,170 L450,340 M620,505 L425,350 L380,170"/><path d="M450,340 L620,495"/><path d="M520,120 L545,120 L590,290 M720,490 L565,300 L520,120"/><path d="M590,290 L720,480"/><path d="M680,95 L705,95 L715,300 M810,480 L690,310 L680,95"/><path d="M715,300 L810,470"/><path d="M800,75 L825,75 L835,280 M910,480 L810,290 L800,75"/><path d="M835,280 L910,470"/><path d="M915,80 L940,80 L950,310 M1010,495 L925,320 L915,80"/><path d="M950,310 L1010,485"/><path d="M1020,95 L1045,95 L1070,320 M1125,525 L1045,330 L1020,95"/><path d="M1070,320 L1125,515"/><path d="M1160,120 L1185,120 L1220,390 M1255,585 L1195,400 L1160,120"/><path d="M1220,390 L1255,575"/><path d="M1320,180 L1350,530 L1370,700 L1350,530 M1345,200 L1375,700 M1500,330 L1410,790 M1520,335 L1430,780 M190,680 L400,605 M220,720 L310,710 L260,750 M120,560 L150,560 L155,640"/><path d="M1075,345 L1140,330 L1160,120 M1200,355 L1255,155 M1365,430 L1445,410 L1450,260 M1160,435 L1320,500 L1460,610 L1580,590 M880,400 L1000,410 L1160,440"/></g>
<g transform="translate(1060,1460) scale(0.217155)"><path d="M40,0 C55,70 90,140 125,180 M230,270 L255,285 M370,350 L390,355 M490,395 L515,400 M600,420 L635,425 M690,432 L740,432 M790,435 L860,435 M890,435 L950,432 M1010,428 L1060,420 M1145,405 L1190,395 M1305,350 L1375,325 M1485,250 C1520,220 1545,195 1560,175 M1580,150 C1600,110 1615,60 1620,0"/><path d="M125,180 L165,290 L230,270 M157,235 L169,282"/><path d="M255,285 L290,390 L370,350 M284,337 L294,382"/><path d="M390,355 L420,455 L490,395 M417,405 L424,447"/><path d="M515,400 L540,495 L600,420 M539,447 L544,487"/><path d="M635,425 L650,515 L690,432 M654,470 L654,507"/><path d="M740,432 L755,530 L790,435 M759,481 L759,522"/><path d="M860,435 L873,530 L890,435 M878,482 L877,522"/><path d="M950,432 L985,525 L1010,428 M979,478 L989,517"/><path d="M1060,420 L1120,500 L1145,405 M1102,460 L1124,492"/><path d="M1190,395 L1270,455 L1305,350 M1242,425 L1274,447"/><path d="M1375,325 L1440,350 L1485,250 M1419,337 L1444,342"/><path d="M1560,175 L1570,170 L1580,150 M1577,172 L1574,162"/></g>
<g transform="translate(210,1830) scale(0.045714)"><path d="M380,280 L600,160 L720,230 L560,385 Z M380,280 L270,510 L270,600 L360,740 L440,750 M560,385 L450,600 L440,750 M270,600 L440,665"/><path d="M720,230 L840,205 L940,230 L1020,370 L1020,480 M440,600 L440,860 L560,950 L650,945 L800,865"/><path d="M1020,480 L1530,810 L1530,1030 L1410,1130 L1290,1150 L850,860 L700,790"/><path d="M580,680 C590,450 780,400 1020,510 M710,790 C700,600 820,480 900,490 M840,860 C860,650 920,600 1050,550 M970,950 C980,780 1050,660 1160,640 M1100,1030 C1100,880 1160,760 1300,700 M1230,1100 C1230,950 1300,820 1440,770 M1345,1110 C1340,970 1400,890 1510,880"/></g>
<g transform="translate(320,1720) scale(0.171430)"><path d="M165,340 C170,260 250,215 350,200 L840,110 L1040,48 L1040,470 M1040,470 L1100,470 C1300,430 1500,420 1730,425 L1730,545 L1250,820 C1235,835 1215,830 1205,825 L1115,765 C1100,755 1085,755 1070,765 L975,815 C950,830 940,860 940,880 L940,1075 L625,920 C560,890 500,880 355,885"/><path d="M1105,490 C1300,455 1500,445 1722,450 L1722,540 L1245,805 M1105,485 L1105,530 L1080,530 L1050,520 L1050,485 M1050,520 C960,530 900,560 815,590 L590,640"/><path d="M165,345 L172,925 M165,390 L245,870 C250,900 240,910 230,915 M250,875 C262,600 400,350 840,112 M268,880 C282,610 420,370 855,165"/><path d="M330,530 L330,985 M355,490 L355,985 C350,1000 335,1010 320,1015 M515,330 L515,650 M575,280 L575,680 M592,270 L592,660 M815,170 L815,590"/><ellipse cx="977" cy="435" rx="42" ry="28" transform="rotate(-20 977 435)"/><ellipse cx="977" cy="435" rx="30" ry="18" transform="rotate(-20 977 435)"/><path d="M360,685 L510,655 L580,690 L625,705 L640,745 M592,660 L625,690 L665,660 L945,810 M640,745 L940,890 M625,700 L625,920 M360,875 C500,862 575,880 640,915"/><path d="M160,665 C90,690 55,760 55,840 L55,1100 C65,1170 130,1220 215,1240 M160,680 C110,710 95,760 95,800 C100,860 130,900 175,930"/><path d="M270,880 C190,920 130,980 125,1080 C125,1130 140,1160 170,1165 L205,1160 C220,1170 220,1200 215,1240 L205,1440 L440,1310 L475,1115 L300,1015 M270,890 L270,1330 C265,1380 240,1410 210,1430 M225,1190 L245,1400 L440,1295 L440,1340 L470,1340 L475,1115 M270,935 L330,965 M290,1000 L320,1015"/><ellipse cx="200" cy="1100" rx="18" ry="30" transform="rotate(20 200 1100)"/></g>
<g transform="translate(900,1800) scale(0.228571)"><path d="M315,1075 L360,1100 L1610,375 L1610,355 L1585,345 L1585,212 L1480,212 C1200,230 950,300 740,385 L738,282 L700,240 L705,160 L690,158 C600,210 480,300 450,350 L418,400 L380,590 L380,700 L350,760 C330,820 320,880 315,1075 Z"/><path d="M445,410 C520,330 610,260 690,220 L690,235 M430,460 C500,380 620,280 690,240 M330,990 C340,900 370,830 400,810 M360,1080 L1595,370 M745,380 C950,300 1250,230 1585,216"/><path d="M450,745 C550,640 680,550 790,500 M855,470 C1100,390 1350,345 1565,345"/><path d="M480,920 C470,905 500,895 520,890 L1270,468 C1292,462 1302,482 1282,495 L510,932 C495,937 480,932 480,920 Z M510,915 L1275,485"/><ellipse cx="988" cy="342" rx="30" ry="18"/><ellipse cx="368" cy="805" rx="10" ry="25"/></g>
<g transform="translate(1190,1985) scale(0.031427)"><path d="M1090,940 L1310,650 L1570,660 L1570,1040 L1340,1290 L1090,1290 Z M1090,940 L880,850 L1100,540 L1290,520 L1310,650 M880,850 L880,1130 L1000,1230 L1090,1260 M1100,540 L1160,420 L1260,420 L1380,530 L1290,550 M1380,530 L1570,660"/><path d="M1050,500 L800,860 L780,1060 L850,1180 L1000,1240"/><path d="M160,400 L220,280 L340,230 L570,260 L1000,520 M300,620 L170,470 M370,680 L780,880"/><path d="M280,620 C270,450 330,340 400,320 M390,670 C380,500 450,400 590,320 M520,760 C520,600 580,460 690,420 M650,820 C640,650 700,530 820,490 M780,880 C770,720 820,620 940,580 M840,820 C860,700 900,640 970,550"/></g>
<g transform="translate(0,0) scale(1.000000)"><path d="M1203.5,2408 L1203.5,2278 C1204,2270 1210,2266 1224,2262 L1384,2170.5 C1387,2168 1386,2164 1385,2160 C1383,2140 1383,2120 1389,2105 C1395,2088 1410,2070 1441,2055 C1480,2030 1540,2016 1600,2016 C1660,2017 1720,2032 1770,2055 C1815,2078 1846,2110 1847,2150 L1847,2255 L1841,2270 L1841,2310 C1836,2330 1828,2345 1823,2350 C1800,2370 1760,2390 1720,2403 C1690,2413 1660,2420 1610,2428 C1590,2432 1570,2440 1555,2450 L1431,2521 C1425,2526 1406,2528 1400,2522 L1212,2416 C1206,2413 1203.5,2410 1203.5,2408 Z"/><path d="M1224.3,2266.3 L1384,2174 C1400,2165 1406,2155 1406,2137 C1406,2120 1408,2100 1425,2080 C1440,2060 1465,2045 1487,2038 M1733.7,2040 C1780,2058 1815,2090 1823,2130 C1830,2165 1815,2200 1770,2228 C1740,2248 1700,2262 1640,2271 C1610,2275 1590,2280 1578,2286 L1416,2376"/><path d="M1487,2038 C1520,2028 1560,2020 1600,2020 C1650,2020 1700,2028 1733.7,2041"/><path d="M1431,2396.5 L1578,2312 C1590,2304 1600,2302 1667,2296 C1690,2292 1705,2286 1720,2281 C1760,2265 1800,2240 1822,2224 C1835,2210 1842,2195 1841.5,2180"/><path d="M1773.7,2339.4 C1795,2330 1815,2315 1832,2291 L1841,2266"/><path d="M1210.6,2286.9 L1400.3,2396.6 M1203.5,2278 L1224.3,2266.3 L1210.6,2286.9 M1400.3,2396.6 L1416.3,2376 L1431.1,2396.6 C1420,2402 1410,2402 1400.3,2396.6 M1400.3,2397 L1400.3,2522 M1431.1,2397 L1431.1,2521"/><path d="M1252.9,2266.3 L1384.3,2189.7 L1551.1,2286.9 L1418.6,2362.3 Z M1257,2268 L1384.3,2194 L1546,2287 L1418.6,2358.5 Z"/><ellipse cx="1250.6" cy="2289.1" rx="5" ry="8"/><ellipse cx="1363.7" cy="2350.9" rx="5" ry="8"/><path d="M1296.3,2465 C1298,2455 1302,2450 1306.6,2449 L1311.1,2474.3 C1305,2475 1298,2472 1296.3,2465 Z"/><path d="M1481.4,2440 L1537.4,2406.9 L1539.7,2408 L1539.7,2451.4 L1484.9,2484.6 L1481.4,2482.3 Z M1484,2482 L1537,2450 L1537,2409"/><ellipse cx="1599.5" cy="2132" rx="166.5" ry="98"/><path d="M1768.5,2133.0 L1768.0,2140.8 L1766.4,2148.6 L1763.8,2156.3 L1760.2,2163.9 L1755.6,2171.3 L1750.1,2178.4 L1743.6,2185.2 L1736.2,2191.8 L1728.0,2197.9 L1719.0,2203.7 L1709.3,2209.0 L1698.8,2213.9 L1687.8,2218.3 L1676.2,2222.1 L1664.2,2225.4 L1651.7,2228.1 L1639.0,2230.2 L1625.9,2231.8 L1612.8,2232.7 L1599.5,2233.0 L1586.2,2232.7 L1573.1,2231.8 L1560.0,2230.2 L1547.3,2228.1 L1534.8,2225.4 L1522.8,2222.1 L1511.2,2218.3 L1500.2,2213.9 L1489.7,2209.0 L1480.0,2203.7 L1471.0,2197.9 L1462.8,2191.8 L1455.4,2185.2 L1448.9,2178.4 L1443.4,2171.3 L1438.8,2163.9 L1435.2,2156.3 L1432.6,2148.6 L1431.0,2140.8 L1430.5,2133.0"/><ellipse cx="1599.6" cy="2129.7" rx="141.7" ry="81.7"/><path d="M1460.6,2129.0 L1461.0,2122.8 L1462.3,2116.6 L1464.4,2110.6 L1467.4,2104.6 L1471.2,2098.8 L1475.8,2093.1 L1481.1,2087.7 L1487.1,2082.6 L1493.9,2077.7 L1501.3,2073.1 L1509.3,2068.9 L1517.9,2065.1 L1527.0,2061.6 L1536.5,2058.6 L1546.4,2056.0 L1556.6,2053.9 L1567.2,2052.2 L1577.9,2051.0 L1588.7,2050.2 L1599.6,2050.0 L1610.5,2050.2 L1621.3,2051.0 L1632.0,2052.2 L1642.6,2053.9 L1652.8,2056.0 L1662.7,2058.6 L1672.2,2061.6 L1681.3,2065.1 L1689.9,2068.9 L1697.9,2073.1 L1705.3,2077.7 L1712.1,2082.6 L1718.1,2087.7 L1723.4,2093.1 L1728.0,2098.8 L1731.8,2104.6 L1734.8,2110.6 L1736.9,2116.6 L1738.2,2122.8 L1738.6,2129.0"/><path d="M1488,2177 C1540,2160 1590,2154 1628,2156 C1660,2160 1700,2168 1718,2175"/><ellipse cx="1490.3" cy="2066.3" rx="5" ry="3.5"/><ellipse cx="1559.5" cy="2043" rx="5" ry="3.5"/><ellipse cx="1640" cy="2043" rx="5" ry="3.5"/><ellipse cx="1709" cy="2066.3" rx="5" ry="3.5"/><ellipse cx="1749.7" cy="2106.3" rx="5" ry="3.5"/><ellipse cx="1749.7" cy="2152.7" rx="5" ry="3.5"/><ellipse cx="1709" cy="2192.7" rx="5" ry="3.5"/><ellipse cx="1640" cy="2216" rx="5" ry="3.5"/><ellipse cx="1559.5" cy="2216" rx="5" ry="3.5"/><ellipse cx="1490.3" cy="2192.7" rx="5" ry="3.5"/><ellipse cx="1450.6" cy="2106.3" rx="5" ry="3.5"/><ellipse cx="1450.6" cy="2152.7" rx="5" ry="3.5"/><ellipse cx="1522.3" cy="2033" rx="2.5" ry="2"/><ellipse cx="1542.9" cy="2031.5" rx="5.5" ry="4"/><ellipse cx="1560" cy="2025" rx="3" ry="2"/></g>
<g transform="translate(1570,2470) scale(0.040000)"><path d="M230,510 L300,410 L410,385 L740,550 L870,540 L1160,690 M230,510 L230,640 L300,690 L560,900 L640,985 L880,1110"/><path d="M330,690 L330,560 C370,470 430,460 480,470 M390,760 L390,590 C420,520 480,490 540,500 M460,800 L450,640 C490,560 550,540 600,540 M520,830 L510,660 C550,600 610,570 660,570 M560,900 L560,760 C600,670 660,610 720,560"/><path d="M1160,690 L1320,630 L1430,660 L1540,810 L1540,1160 L1380,1330 L1240,1380 L1060,1430 L960,1350 L910,1110 L950,940 Z"/><path d="M980,1010 L1200,760 L1430,700 M1060,1040 L1060,1240 L1220,1330 L1380,1320 L1530,1150 M1060,1040 L1210,1090 L1230,1320 M1210,1090 L1370,930 L1450,950 L1470,1100 L1420,1230 L1290,1280 L1230,1100 M1240,810 L1420,870 L1470,960 M1060,1040 L1220,850"/></g>
<g transform="translate(1185,2455) scale(0.034286)"><path d="M150,600 L250,570 L400,565 L620,850 L620,1170 L510,1200 L400,1210 L150,920 Z M400,565 L540,450 L830,740 L620,850 M830,740 L830,1080 L740,1100 L640,1160"/><path d="M360,470 L460,360 L540,360 L760,460 L910,620 L920,1010 L840,1100 M290,520 L360,470"/><path d="M760,460 L860,380 L1040,250 L1150,190 L1420,185 L1500,300 L1500,420 L1440,500 L1310,600 L1170,680 L1060,730 L990,800 L910,800"/><path d="M860,390 C960,420 1040,500 1060,640 L1060,730 M1010,330 C1100,380 1170,450 1180,600 L1180,680 M1050,260 L1150,270 C1220,330 1290,440 1300,600 M1250,195 C1330,260 1400,350 1420,500 M740,460 C800,520 880,600 930,680 L920,800 M680,440 C760,520 850,620 880,700 L880,840"/></g>
<g transform="translate(1740,2290) scale(0.211430)"><path d="M1282,132 L1292,88 L1335,66 L1395,75 L1410,130 L1392,162 L1340,175 L1292,152 Z M1292,100 L1340,125 L1400,105 M1340,125 L1342,172"/><path d="M1308,175 L1310,255 L1335,290 L1365,285 L1385,255 L1385,170 M1310,195 Q1348,210 1385,192 M1310,220 Q1348,235 1385,217 M1310,245 Q1348,260 1385,242 M1318,268 Q1348,282 1378,266"/><path d="M420,1300 L335,1250 L335,1222 L410,1178 L410,1100 L700,925 C730,910 760,902 780,900 L1010,855 L1040,805 L1220,680 L1270,652 L1300,470 C1300,455 1320,450 1340,450 L1480,445 L1480,350 L1632,343 C1645,360 1648,400 1648,440 L1645,520 C1630,620 1580,700 1500,770 C1440,830 1350,890 1250,930 C1150,970 1000,1010 800,1065 L420,1300 Z"/><path d="M420,1105 L420,1300 M420,1105 L470,1135 C500,1130 560,1090 590,1075 C620,1065 800,1055 1000,1025 C1150,1000 1300,950 1400,880 C1500,800 1600,720 1630,570 M480,1125 C520,1110 560,1085 610,1075 C700,1065 900,1045 1050,1015 M1480,445 C1480,500 1460,560 1420,600 C1390,640 1360,670 1320,695 C1200,760 1100,800 1010,855"/><path d="M1270,600 L1400,610 M1260,645 L1360,660 M1220,680 L1320,700 M1030,810 L1060,840"/><ellipse cx="355" cy="1240" rx="22" ry="18"/></g>
</g>
<g>
<text transform="translate(855.2 119.0) scale(1.05 1)">949A</text>
<text transform="translate(954.5 245.0) scale(1.05 1)">318A</text>
<text transform="translate(907.0 336.5) scale(1.05 1)">493A</text>
<text transform="translate(863.0 385.0) scale(1.05 1)">563A</text>
<text transform="translate(1054.9 627.7) scale(1.05 1)">668A</text>
<text transform="translate(1136.7 712.3) scale(1.05 1)">332</text>
<text transform="translate(972.7 740.0) scale(1.05 1)">74A</text>
<text transform="translate(1004.0 851.7) scale(1.05 1)">73A</text>
<text transform="translate(435.4 732.7) scale(1.05 1)">74</text>
<text transform="translate(419.0 852.0) scale(1.05 1)">73</text>
<text transform="translate(968.0 964.4) scale(1.05 1)">1044</text>
<text transform="translate(650.8 1093.2) scale(1.05 1)">455A</text>
<text transform="translate(1154.8 984.3) scale(1.05 1)">75</text>
<text transform="translate(1109.0 1088.0) scale(1.05 1)">455</text>
<text transform="translate(1317.0 1184.8) scale(1.05 1)">934</text>
<text transform="translate(1072.8 1260.3) scale(1.05 1)">1006</text>
<text transform="translate(904.0 1419.7) scale(1.05 1)">1005</text>
<text transform="translate(149.2 1726.5) scale(1.05 1)">727</text>
<text transform="translate(160.0 1834.4) scale(1.05 1)">732</text>
<text transform="translate(921.9 1850.3) scale(1.05 1)">37A</text>
<text transform="translate(1138.5 2014.4) scale(1.05 1)">78</text>
<text transform="translate(227.0 2399.0) scale(1.05 1)">1036 EMISSIONS LABEL</text>
<text transform="translate(1124.9 2357.7) scale(1.05 1)">304</text>
<text transform="translate(1091.0 2487.1) scale(1.05 1)">305A</text>
<text transform="translate(1508.7 2529.4) scale(1.05 1)">305</text>
<text transform="translate(1755.0 2546.0) scale(1.05 1)">37</text>
<text transform="translate(1951.0 2338.2) scale(1.05 1)">78</text>
</g>
</svg>
</body></html>
